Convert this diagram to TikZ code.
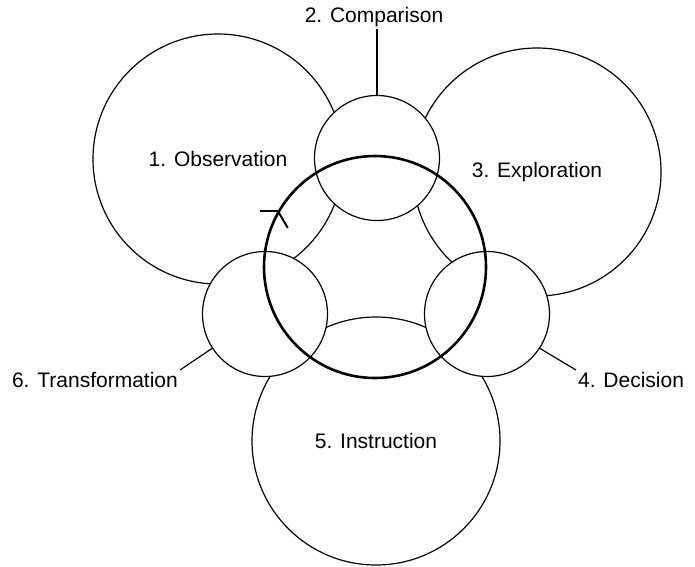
\documentclass[tikz,border=0pt]{standalone}
\usepackage{fontspec}
\setmainfont{Liberation Sans}
\begin{document}
\begin{tikzpicture}[x=1pt, y=-1pt,
  lbl/.style={font=\fontsize{21}{25}\selectfont, inner sep=2pt},
  bigc/.style={circle, draw, line width=1.2pt, inner sep=0pt, font=\fontsize{21}{25}\selectfont},
  smallc/.style={circle, draw, fill=white, line width=1.2pt, inner sep=0pt, minimum size=125pt},
  cycle/.style={circle, draw, line width=2.6pt, inner sep=0pt, minimum size=222pt},
  leader/.style={line width=1.2pt}
]
  \fill[white] (0,0) rectangle (695,566);
  \useasboundingbox (0,0) rectangle (695,566);

  % the three large stages
  \node[bigc, minimum size=250pt] (obs) at (218,159) {1. Observation};
  \node[bigc, minimum size=248pt] (exp) at (537,172) {3. Exploration};
  \node[bigc, minimum size=248pt] (ins) at (376,441) {5. Instruction};

  % the three linking stages, drawn on top
  \node[smallc] (cmp) at (377,158) {};
  \node[smallc] (dec) at (487,314) {};
  \node[smallc] (tra) at (265,314) {};

  % the cycle running through all stages
  \node[cycle] (cyc) at (375,267) {};
  \coordinate (tip) at (cyc.150);
  \draw[line width=2pt] (tip) -- ++(-18,0);
  \draw[line width=2pt] (tip) -- ++(10,17);

  % outer labels with leaders
  \node[lbl] (cmplbl) at (374,17) {2. Comparison};
  \draw[leader] (cmp.north) -- (cmp.north |- cmplbl.south);

  \node[lbl, anchor=north west] (declbl) at (576,370) {4. Decision};
  \draw[leader] (dec.-33) -- (declbl.north west);

  \node[lbl, anchor=north east] (tralbl) at (180,370) {6. Transformation};
  \draw[leader] (tra.213) -- (tralbl.north east);
\end{tikzpicture}
\end{document}
